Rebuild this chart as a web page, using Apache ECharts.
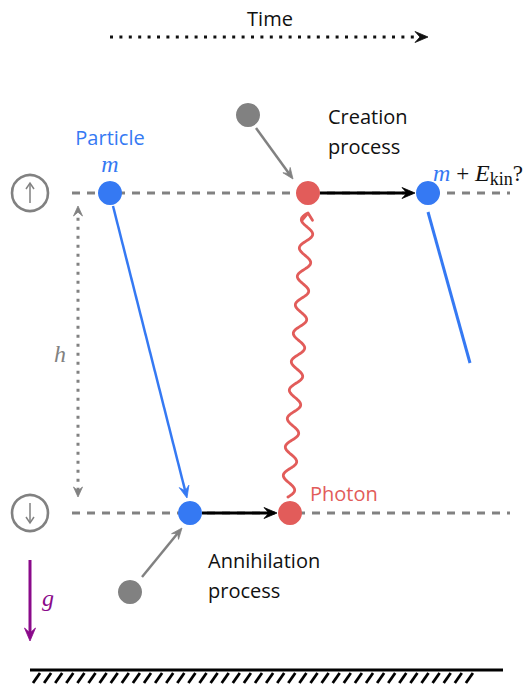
<!DOCTYPE html>
<html><head><meta charset="utf-8">
<script src="https://cdn.jsdelivr.net/npm/echarts@6/dist/echarts.min.js"></script>
<style>html,body{margin:0;padding:0;background:#fff}#c{width:528px;height:686px}</style>
</head><body><div id="c"></div>
<script>
// Diagram coordinates (x: time direction, y: height measured downwards)
const levelHeights = [193, 513];
const levelSpan = [72, 510];
const levelIcons = ['up', 'down'];
const particleDots = [[110, 193], [190, 513], [428, 193]];
const photonDots = [[290, 513], [308, 193]];
const probeDots = [[248, 115], [130, 592]];
const arrows = [
  { from: [110, 37], to: [428, 37], kind: 'time' },
  { from: [113, 206], to: [187, 498], kind: 'particle' },
  { from: [428, 212], to: [470, 363], kind: 'particleLine' },
  { from: [202, 513], to: [277, 513], kind: 'process' },
  { from: [320, 193], to: [415, 193], kind: 'process' },
  { from: [256, 128], to: [293, 179], kind: 'probe' },
  { from: [142, 577], to: [182, 528], kind: 'probe' },
  { from: [78, 497], to: [78, 206], kind: 'height' },
  { from: [288, 497], to: [308, 213], kind: 'photon' },
  { from: [30, 560], to: [30, 641], kind: 'gravity' }
];
const ground = [[30, 670], [503, 670]];
const labels = [
  { text: 'Time', at: [270, 18], kind: 'sans', align: 'center' },
  { text: 'Particle', at: [110, 137], kind: 'sansBlue', align: 'center' },
  { text: 'm', at: [110, 164], kind: 'mathBlue', align: 'center' },
  { text: 'Creation\nprocess', at: [328, 131], kind: 'sans', align: 'left' },
  { text: 'Annihilation\nprocess', at: [208, 575], kind: 'sans', align: 'left' },
  { text: 'Photon', at: [310, 493], kind: 'sansRed', align: 'left' },
  { text: 'h', at: [60, 354], kind: 'mathGray', align: 'center' },
  { text: 'g', at: [48, 598], kind: 'mathPurple', align: 'center' },
  { text: 'm + Ekin?', at: [433, 173], kind: 'rich', align: 'left' }
];

const BLUE = '#3579f3', RED = '#e25c5a', GRAY = '#818181', PURPLE = '#8a0a8a';
const SANS = '"Open Sans", "DejaVu Sans", sans-serif';
const SERIF = '"Liberation Serif", "DejaVu Serif", serif';
const arrowStyles = {
  time:        { color: '#111', width: 3, dash: [3, 6.4], head: 'stealth', L: 13, W: 5.5 },
  particle:    { color: BLUE, width: 2.5, head: 'stealth', L: 12, W: 5 },
  particleLine:{ color: BLUE, width: 3, head: 'none' },
  process:     { color: '#000', width: 3, head: 'stealth', L: 13, W: 5.5 },
  probe:       { color: GRAY, width: 2.5, head: 'stealth', L: 11, W: 4.5 },
  height:      { color: GRAY, width: 3, dash: [3, 6], head: 'stealth', both: true, L: 10, W: 4.5 },
  photon:      { color: RED, width: 2.8, head: 'open', wave: true, L: 7, W: 5 },
  gravity:     { color: PURPLE, width: 3, head: 'stealth', L: 13, W: 5.5 }
};
const textStyles = {
  sans: { font: '20px ' + SANS, fill: '#111' },
  sansBlue: { font: '20px ' + SANS, fill: BLUE },
  sansRed: { font: '20px ' + SANS, fill: RED },
  mathBlue: { font: 'italic 24px ' + SERIF, fill: BLUE },
  mathGray: { font: 'italic 24px ' + SERIF, fill: GRAY },
  mathPurple: { font: 'italic 24px ' + SERIF, fill: PURPLE },
  rich: { font: '24px ' + SERIF, fill: '#111' }
};

function headShape(tip, ux, uy, st) {
  const nx = -uy, ny = ux, L = st.L, W = st.W;
  const b1 = [tip[0] - ux * L + nx * W, tip[1] - uy * L + ny * W];
  const b2 = [tip[0] - ux * L - nx * W, tip[1] - uy * L - ny * W];
  if (st.head === 'open') {
    return { el: { type: 'polyline', shape: { points: [b1, tip, b2] },
      style: { stroke: st.color, lineWidth: st.width, fill: null, lineCap: 'round', lineJoin: 'round' } },
      base: tip };
  }
  const notch = [tip[0] - ux * L * 0.62, tip[1] - uy * L * 0.62];
  return { el: { type: 'polygon', shape: { points: [tip, b1, notch, b2] },
      style: { fill: st.color, stroke: st.color, lineWidth: 0.8, lineJoin: 'round' } },
    base: notch };
}

function renderArrow(params, api) {
  const a = arrows[params.dataIndex];
  const st = arrowStyles[a.kind];
  const p1 = api.coord(a.from), p2 = api.coord(a.to);
  const dx = p2[0] - p1[0], dy = p2[1] - p1[1];
  const len = Math.hypot(dx, dy), ux = dx / len, uy = dy / len;
  const children = [];
  let s = p1, e = p2;
  if (st.head !== 'none') {
    const h = headShape(p2, ux, uy, st);
    children.push(h.el);
    if (st.head !== 'open') e = h.base;
    if (st.both) {
      const h2 = headShape(p1, -ux, -uy, st);
      children.push(h2.el);
      s = h2.base;
    }
  }
  if (st.wave) {
    const pts = [];
    const wl = 28.5, amp = 6.2, nx = -uy, ny = ux;
    const L2 = Math.hypot(e[0] - s[0], e[1] - s[1]);
    for (let d = 0; d <= L2; d += 1) {
      const off = amp * Math.sin(2 * Math.PI * d / wl);
      pts.push([s[0] + ux * d + nx * off, s[1] + uy * d + ny * off]);
    }
    children.unshift({ type: 'polyline', shape: { points: pts },
      style: { stroke: st.color, lineWidth: st.width, fill: null, lineCap: 'round', lineJoin: 'round' } });
  } else {
    children.unshift({ type: 'line', shape: { x1: s[0], y1: s[1], x2: e[0], y2: e[1] },
      style: { stroke: st.color, lineWidth: st.width, lineDash: st.dash || null, lineCap: 'butt' } });
  }
  return { type: 'group', children };
}

function renderLevel(params, api) {
  const y = levelHeights[params.dataIndex];
  const a = api.coord([levelSpan[0], y]), b = api.coord([levelSpan[1], y]);
  const c = api.coord([30, y]);
  const dir = levelIcons[params.dataIndex] === 'up' ? -1 : 1;
  const tip = [c[0], c[1] + dir * 10];
  return { type: 'group', children: [
    { type: 'line', shape: { x1: a[0], y1: a[1], x2: b[0], y2: b[1] },
      style: { stroke: GRAY, lineWidth: 3, lineDash: [8, 7] } },
    { type: 'circle', shape: { cx: c[0], cy: c[1], r: 18 },
      style: { stroke: GRAY, lineWidth: 2.6, fill: '#fff' } },
    { type: 'line', shape: { x1: c[0], y1: c[1] - dir * 10, x2: tip[0], y2: tip[1] },
      style: { stroke: GRAY, lineWidth: 1.5 } },
    { type: 'polyline', shape: { points: [[tip[0] - 4, tip[1] - dir * 6], tip, [tip[0] + 4, tip[1] - dir * 6]] },
      style: { stroke: GRAY, lineWidth: 1.5, fill: null } }
  ] };
}

function renderGround(params, api) {
  const a = api.coord(ground[0]), b = api.coord(ground[1]);
  const children = [{ type: 'line', shape: { x1: a[0], y1: a[1], x2: b[0], y2: b[1] },
    style: { stroke: '#000', lineWidth: 3 } }];
  for (let x = a[0] + 5; x <= b[0] - 25; x += 11.1) {
    children.push({ type: 'line', shape: { x1: x + 5, y1: a[1] + 3, x2: x - 2, y2: a[1] + 13 },
      style: { stroke: '#000', lineWidth: 2.8 } });
  }
  return { type: 'group', children };
}

function renderLabel(params, api) {
  const t = labels[params.dataIndex];
  const p = api.coord(t.at);
  const ts = textStyles[t.kind];
  const style = { text: t.text, x: p[0], y: p[1], font: ts.font, fill: ts.fill,
    align: t.align, verticalAlign: 'middle', lineHeight: 30 };
  if (t.kind === 'rich') {
    style.rich = {
      m: { font: 'italic 24px ' + SERIF, fill: BLUE },
      t: { font: '23px ' + SERIF, fill: '#111' },
      e: { font: 'italic 24px ' + SERIF, fill: '#111' },
      s: { font: '18px ' + SERIF, fill: '#111', padding: [12, 0, 0, 0] }
    };
    style.text = '{m|m} {t|+ }{e|E}{s|kin}{t|?}';
  }
  return { type: 'text', style };
}

const chart = echarts.init(document.getElementById('c'), null, { renderer: 'svg' });
chart.setOption({
  animation: false,
  grid: { left: 0, right: 0, top: 0, bottom: 0 },
  xAxis: { type: 'value', min: 0, max: 528, show: false },
  yAxis: { type: 'value', min: 0, max: 686, inverse: true, show: false },
  series: [
    { type: 'custom', renderItem: renderLevel, data: levelHeights.map(y => [levelSpan[0], y]), z: 1 },
    { type: 'custom', renderItem: renderGround, data: [ground[0]], z: 1 },
    { type: 'custom', renderItem: renderArrow, data: arrows.map(a => a.from.concat(a.to)), z: 2 },
    { type: 'scatter', data: particleDots, symbolSize: 24, itemStyle: { color: BLUE, opacity: 1 }, z: 3 },
    { type: 'scatter', data: photonDots, symbolSize: 24, itemStyle: { color: RED, opacity: 1 }, z: 3 },
    { type: 'scatter', data: probeDots, symbolSize: 24, itemStyle: { color: GRAY, opacity: 1 }, z: 3 },
    { type: 'custom', renderItem: renderLabel, data: labels.map(l => l.at), z: 4 }
  ]
});
</script></body></html>
